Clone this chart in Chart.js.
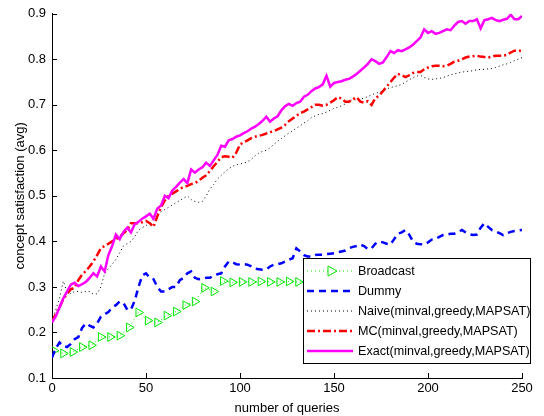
<!DOCTYPE html>
<html>
<head>
<meta charset="utf-8">
<script src="https://cdn.jsdelivr.net/npm/chart.js@4.4.1/dist/chart.umd.min.js"></script>
<style>
  body { margin: 0; background: #fff; }
  canvas { display: block; }
</style>
</head>
<body>
<canvas id="chart" width="544" height="416"></canvas>
<script>
// number of queries (x) for the dense series
const queries = [
  0, 2, 4, 6, 8, 10, 12, 14, 16, 18,
  20, 22, 24, 26, 28, 30, 32, 34, 36, 38,
  40, 42, 44, 46, 48, 50, 52, 54, 56, 58,
  60, 62, 64, 66, 68, 70, 72, 74, 76, 78,
  80, 82, 84, 86, 88, 90, 92, 94, 96, 98,
  100, 102, 104, 106, 108, 110, 112, 114, 116, 118,
  120, 122, 124, 126, 128, 130, 132, 134, 136, 138,
  140, 142, 144, 146, 148, 150, 152, 154, 156, 158,
  160, 162, 164, 166, 168, 170, 172, 174, 176, 178,
  180, 182, 184, 186, 188, 190, 192, 194, 196, 198,
  200, 202, 204, 206, 208, 210, 212, 214, 216, 218,
  220, 222, 224, 226, 228, 230, 232, 234, 236, 238,
  240, 242, 244, 246, 248, 250
];

// broadcast is sampled every 5 queries (marker positions)
const broadcastQueries = [
  1, 6, 11, 16, 21, 26, 31, 36, 41, 46,
  51, 56, 61, 66, 71, 76, 81, 86, 91, 96,
  101, 106, 111, 116, 121, 126, 131, 136, 141, 146,
  151, 156, 161, 166, 171, 176, 181, 186, 191, 196,
  201, 206, 211, 216, 221, 226, 231, 236, 241, 246
];

const broadcast = [
  0.16, 0.154, 0.157, 0.168, 0.172, 0.19, 0.19, 0.193, 0.211, 0.244,
  0.226, 0.222, 0.237, 0.246, 0.26, 0.268, 0.298, 0.29, 0.313, 0.31,
  0.311, 0.311, 0.312, 0.311, 0.311, 0.312, 0.311, 0.312, 0.313, 0.312,
  0.313, 0.314, 0.313, 0.314, 0.315, 0.314, 0.315, 0.316, 0.315, 0.316,
  0.316, 0.317, 0.316, 0.317, 0.318, 0.317, 0.318, 0.318, 0.319, 0.318
];

const dummy = [
  0.145, 0.165, 0.178, 0.17, 0.168, 0.175, 0.185, 0.19, 0.21, 0.22,
  0.215, 0.211, 0.22, 0.235, 0.24, 0.245, 0.255, 0.26, 0.268, 0.265,
  0.25, 0.25, 0.27, 0.30, 0.325, 0.33, 0.32, 0.317, 0.30, 0.29,
  0.29, 0.295, 0.30, 0.30, 0.315, 0.32, 0.33, 0.334, 0.32, 0.317,
  0.318, 0.32, 0.32, 0.325, 0.328, 0.33, 0.345, 0.356, 0.354, 0.35,
  0.349, 0.35, 0.349, 0.345, 0.34, 0.339, 0.338, 0.339, 0.345, 0.349,
  0.35, 0.352, 0.356, 0.36, 0.363, 0.385, 0.378, 0.37, 0.367, 0.367,
  0.37, 0.371, 0.371, 0.372, 0.373, 0.374, 0.376, 0.378, 0.38, 0.385,
  0.388, 0.39, 0.393, 0.39, 0.383, 0.385, 0.395, 0.40, 0.398, 0.395,
  0.393, 0.405, 0.417, 0.42, 0.425, 0.415, 0.40, 0.395, 0.394, 0.393,
  0.398, 0.404, 0.405, 0.41, 0.414, 0.415, 0.417, 0.417, 0.42, 0.425,
  0.42, 0.416, 0.414, 0.415, 0.43, 0.44, 0.432, 0.425, 0.422, 0.418,
  0.414, 0.418, 0.421, 0.423, 0.424, 0.425
];

const naive = [
  0.225, 0.25, 0.275, 0.313, 0.29, 0.285, 0.29, 0.29, 0.288, 0.29,
  0.29, 0.284, 0.285, 0.30, 0.33, 0.34, 0.35, 0.36, 0.375, 0.39,
  0.395, 0.40, 0.41, 0.425, 0.43, 0.435, 0.44, 0.45, 0.46, 0.465,
  0.47, 0.475, 0.48, 0.485, 0.49, 0.495, 0.50, 0.492, 0.488, 0.486,
  0.488, 0.50, 0.515, 0.525, 0.537, 0.545, 0.553, 0.56, 0.565, 0.568,
  0.57, 0.572, 0.575, 0.58, 0.588, 0.594, 0.598, 0.60, 0.606, 0.613,
  0.62, 0.626, 0.632, 0.638, 0.643, 0.649, 0.654, 0.66, 0.665, 0.672,
  0.676, 0.679, 0.681, 0.684, 0.688, 0.692, 0.695, 0.698, 0.702, 0.708,
  0.712, 0.71, 0.712, 0.715, 0.718, 0.722, 0.725, 0.728, 0.73, 0.735,
  0.738, 0.74, 0.742, 0.745, 0.75, 0.755, 0.76, 0.763, 0.765, 0.76,
  0.757, 0.756, 0.757, 0.758, 0.76, 0.763, 0.766, 0.768, 0.77, 0.772,
  0.773, 0.774, 0.775, 0.777, 0.778, 0.778, 0.779, 0.78, 0.782, 0.785,
  0.788, 0.79, 0.793, 0.797, 0.80, 0.804
];

const mc = [
  0.225, 0.24, 0.255, 0.273, 0.285, 0.295, 0.298, 0.315, 0.327, 0.335,
  0.345, 0.356, 0.37, 0.385, 0.39, 0.395, 0.40, 0.405, 0.41, 0.418,
  0.425, 0.44, 0.44, 0.44, 0.442, 0.445, 0.44, 0.432, 0.455, 0.475,
  0.49, 0.50, 0.505, 0.51, 0.515, 0.52, 0.522, 0.526, 0.528, 0.533,
  0.54, 0.545, 0.555, 0.565, 0.575, 0.585, 0.587, 0.586, 0.584, 0.595,
  0.613, 0.618, 0.622, 0.627, 0.63, 0.632, 0.634, 0.637, 0.64, 0.642,
  0.646, 0.65, 0.656, 0.664, 0.67, 0.676, 0.682, 0.685, 0.69, 0.695,
  0.70, 0.70, 0.698, 0.70, 0.705, 0.71, 0.717, 0.714, 0.707, 0.707,
  0.712, 0.717, 0.707, 0.705, 0.708, 0.70, 0.715, 0.72, 0.73, 0.74,
  0.75, 0.76, 0.768, 0.765, 0.761, 0.765, 0.77, 0.772, 0.772, 0.778,
  0.782, 0.785, 0.786, 0.786, 0.785, 0.786, 0.79, 0.795, 0.797, 0.80,
  0.804, 0.806, 0.807, 0.808, 0.806, 0.805, 0.804, 0.806, 0.808, 0.808,
  0.808, 0.81, 0.815, 0.819, 0.818, 0.82
];

const exact = [
  0.222, 0.235, 0.255, 0.275, 0.29, 0.305, 0.309, 0.302, 0.306, 0.311,
  0.32, 0.33, 0.323, 0.345, 0.334, 0.37, 0.39, 0.415, 0.405, 0.421,
  0.43, 0.42, 0.438, 0.443, 0.45, 0.455, 0.461, 0.45, 0.472, 0.479,
  0.50, 0.495, 0.512, 0.52, 0.529, 0.537, 0.528, 0.558, 0.551, 0.558,
  0.563, 0.573, 0.566, 0.578, 0.59, 0.61, 0.608, 0.622, 0.625, 0.63,
  0.633, 0.638, 0.642, 0.648, 0.652, 0.658, 0.665, 0.674, 0.663, 0.67,
  0.675, 0.688, 0.697, 0.702, 0.698, 0.704, 0.707, 0.718, 0.722, 0.73,
  0.736, 0.739, 0.745, 0.764, 0.74, 0.748, 0.75, 0.752, 0.755, 0.757,
  0.762, 0.768, 0.775, 0.782, 0.79, 0.80, 0.796, 0.79, 0.793, 0.805,
  0.818, 0.814, 0.82, 0.818, 0.822, 0.826, 0.832, 0.84, 0.848, 0.866,
  0.858, 0.862, 0.856, 0.858, 0.862, 0.866, 0.864, 0.874, 0.882, 0.884,
  0.878, 0.884, 0.884, 0.888, 0.868, 0.886, 0.888, 0.891, 0.886, 0.884,
  0.887, 0.889, 0.898, 0.888, 0.888, 0.895
];

const FONT = '"Liberation Sans", Arial, Helvetica, sans-serif';

function pts(xs, ys) {
  return xs.map((x, i) => ({ x: x, y: ys[i] }));
}

// legend entries, in the order MATLAB lists them
const legendItems = [
  { text: 'Broadcast', color: '#00e600', width: 1, dash: [1, 3], marker: true },
  { text: 'Dummy', color: '#0000ff', width: 2.5, dash: [7, 5] },
  { text: 'Naive(minval,greedy,MAPSAT)', color: '#000000', width: 1, dash: [1, 3] },
  { text: 'MC(minval,greedy,MAPSAT)', color: '#ff0000', width: 2.5, dash: [8, 3, 2, 3] },
  { text: 'Exact(minval,greedy,MAPSAT)', color: '#ff00ff', width: 2.5, dash: [] }
];

// ticks pointing into the plot, MATLAB style
const innerTicks = {
  id: 'innerTicks',
  afterDraw(chart) {
    const ctx = chart.ctx;
    const xs = chart.scales.x, ys = chart.scales.y;
    ctx.save();
    ctx.strokeStyle = '#000';
    ctx.lineWidth = 1;
    ctx.beginPath();
    xs.ticks.forEach(t => {
      const px = Math.round(xs.getPixelForValue(t.value)) + 0.5;
      ctx.moveTo(px, ys.bottom);
      ctx.lineTo(px, ys.bottom - 5);
    });
    ys.ticks.forEach(t => {
      const py = Math.round(ys.getPixelForValue(t.value)) + 0.5;
      ctx.moveTo(xs.left, py);
      ctx.lineTo(xs.left + 5, py);
    });
    ctx.stroke();
    ctx.restore();
  }
};

const boxLegend = {
  id: 'boxLegend',
  afterDatasetsDraw(chart) {
    const ctx = chart.ctx;
    ctx.save();
    ctx.fillStyle = '#fff';
    ctx.fillRect(303, 258, 227, 105);
    ctx.strokeStyle = '#000';
    ctx.lineWidth = 1;
    ctx.setLineDash([]);
    ctx.strokeRect(303.5, 258.5, 227, 105);
    ctx.font = '12.6px ' + FONT;
    ctx.textBaseline = 'middle';
    legendItems.forEach((it, i) => {
      const y = 271 + i * 20;
      ctx.strokeStyle = it.color;
      ctx.lineWidth = it.width;
      ctx.setLineDash(it.dash);
      ctx.beginPath();
      ctx.moveTo(307, y);
      ctx.lineTo(353, y);
      ctx.stroke();
      if (it.marker) {
        ctx.setLineDash([]);
        ctx.beginPath();
        ctx.moveTo(328, y - 5);
        ctx.lineTo(337, y);
        ctx.lineTo(328, y + 5);
        ctx.closePath();
        ctx.fillStyle = '#fff';
        ctx.fill();
        ctx.stroke();
      }
      ctx.fillStyle = '#000';
      ctx.fillText(it.text, 358, y + 1);
    });
    ctx.restore();
  }
};

new Chart(document.getElementById('chart'), {
  type: 'line',
  data: {
    datasets: [
      {
        label: 'Broadcast',
        data: pts(broadcastQueries, broadcast),
        borderColor: '#00e600',
        borderWidth: 1,
        borderDash: [1, 3],
        pointStyle: 'triangle',
        rotation: 90,
        pointRadius: 5,
        pointBorderWidth: 1,
        pointBorderColor: '#00e600',
        pointBackgroundColor: 'rgba(0,0,0,0)',
        order: 4
      },
      {
        label: 'Dummy',
        data: pts(queries, dummy),
        borderColor: '#0000ff',
        borderWidth: 2.5,
        borderDash: [7, 5],
        pointRadius: 0,
        order: 3
      },
      {
        label: 'Naive(minval,greedy,MAPSAT)',
        data: pts(queries, naive),
        borderColor: '#000000',
        borderWidth: 1,
        borderDash: [1, 3],
        pointRadius: 0,
        order: 2
      },
      {
        label: 'MC(minval,greedy,MAPSAT)',
        data: pts(queries, mc),
        borderColor: '#ff0000',
        borderWidth: 2.5,
        borderDash: [8, 3, 2, 3],
        pointRadius: 0,
        order: 1
      },
      {
        label: 'Exact(minval,greedy,MAPSAT)',
        data: pts(queries, exact),
        borderColor: '#ff00ff',
        borderWidth: 2.5,
        pointRadius: 0,
        order: 0
      }
    ]
  },
  options: {
    responsive: false,
    animation: false,
    devicePixelRatio: 1,
    layout: { padding: { left: 0, top: 9, right: 22, bottom: 0 } },
    plugins: {
      legend: { display: false },
      tooltip: { enabled: false }
    },
    scales: {
      x: {
        type: 'linear',
        min: 0,
        max: 250,
        ticks: {
          stepSize: 50,
          color: '#000',
          font: { family: FONT, size: 13 },
          padding: 3,
          maxRotation: 0
        },
        grid: { drawOnChartArea: false, drawTicks: false },
        border: { color: '#000', width: 1 },
        title: {
          display: true,
          text: 'number of queries',
          color: '#000',
          font: { family: FONT, size: 13 },
          padding: { top: 1, bottom: 0 }
        },
        afterFit(s) { s.height = 38; }
      },
      y: {
        min: 0.1,
        max: 0.9,
        ticks: {
          stepSize: 0.1,
          color: '#000',
          font: { family: FONT, size: 13 },
          padding: 6,
          callback: v => v.toFixed(1)
        },
        grid: { drawOnChartArea: false, drawTicks: false },
        border: { color: '#000', width: 1 },
        title: {
          display: true,
          text: 'concept satisfaction (avg)',
          color: '#000',
          font: { family: FONT, size: 13 },
          padding: { top: 13, bottom: 0 }
        },
        afterFit(s) { s.width = 52; }
      }
    }
  },
  plugins: [boxLegend, innerTicks]
});
</script>
</body>
</html>
